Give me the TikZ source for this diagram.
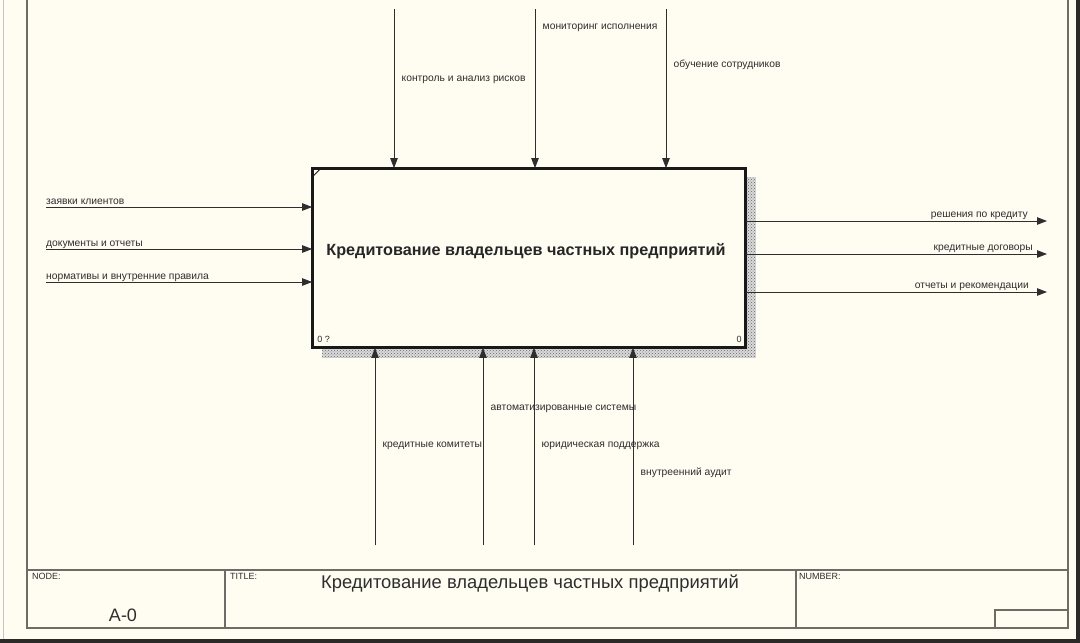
\documentclass[tikz,border=0pt]{standalone}
\usepackage{fontspec}
\setmainfont{Liberation Sans}
\usetikzlibrary{arrows.meta,positioning,patterns,calc}
\definecolor{paper}{HTML}{FFFCF2}
\definecolor{ink}{HTML}{2E2E2E}
\definecolor{rule}{HTML}{6F6B66}
\definecolor{edge}{HTML}{2C2A28}
\tikzset{
  func/.style={draw=black!90, line width=1.8pt, fill=paper, minimum width=432pt,
    minimum height=178pt, inner sep=0pt},
  flow/.style={-{Triangle[length=10pt,width=7.5pt]}, draw=ink, line width=0.9pt},
  lbl/.style={font=\fontsize{10.3}{12}\selectfont, text=ink, inner sep=0pt},
  tag/.style={font=\fontsize{9}{10}\selectfont, text=ink, inner sep=0pt},
  shade/.style={fill=gray!30, postaction={pattern=crosshatch dots, pattern color=black!60}},
  frame/.style={draw=rule, line width=1.1pt},
}

\begin{document}
\begin{tikzpicture}[x=1pt, y=-1pt]
  \useasboundingbox[fill=paper] (0,0) rectangle (1080,643);
  % screenshot edges
  \fill[edge] (0,639) rectangle (1080,643);
  \fill[edge] (1076,0) rectangle (1080,643);
  \draw[gray!45, line width=0.8pt] (3,0) -- (3,639);

  % sheet frame and title block
  \draw[frame] (27,0) -- (27,628) -- (1068,628) -- (1068,0);
  \draw[frame] (27,570) -- (1068,570);
  \draw[frame] (225,570) -- (225,628);
  \draw[frame] (796,570) -- (796,628);
  \draw[frame] (995,628) -- (995,610) -- (1068,610);
  \node[tag, anchor=north west] (nodetag) at (32,573) {NODE:};
  \node[tag, anchor=north west] (titletag) at (230,573) {TITLE:};
  \node[tag, anchor=north west] (numtag) at (799,573) {NUMBER:};
  \node[font=\fontsize{18}{20}\selectfont, text=ink, inner sep=0pt] (nodeno) at (123,615) {A-0};
  \node[font=\fontsize{18.4}{20}\selectfont, text=ink, inner sep=0pt] (sheet) at (530,584)
    {Кредитование владельцев частных предприятий};

  % activity box with shadow
  \node[func] (act) at (529,258) {};
  \path[shade] ($(act.north east)+(0,9)$) rectangle ($(act.south east)+(10,10)$);
  \path[shade] ($(act.south west)+(10,0)$) rectangle ($(act.south east)+(10,10)$);
  \draw[black!90, line width=1.8pt] (act.north west) rectangle (act.south east);
  \draw[black!90, line width=0.9pt] ($(act.north west)+(0,9)$) -- ($(act.north west)+(9,0)$);
  \node[font=\bfseries\fontsize{16.2}{18}\selectfont, text=black!85, inner sep=0pt] (acttitle)
    at ($(act.center)+(-3,-7)$) {Кредитование владельцев частных предприятий};
  \node[tag, anchor=base west] (actno) at ($(act.south west)+(5,-5)$) {0 ?};
  \node[tag, anchor=base east] (actcost) at ($(act.south east)+(-4,-5)$) {0};

  % inputs
  \foreach \y/\txt [count=\i] in {207/заявки клиентов, 249/документы и отчеты,
      282/нормативы и внутренние правила} {
    \coordinate (in\i) at (46,\y);
    \draw[flow] (in\i) -- (in\i -| act.west);
    \node[lbl, anchor=base west] at ($(in\i)+(0,-3)$) {\txt};
  }

  % outputs
  \foreach \y/\ex/\txt [count=\i] in {221/1028/решения по кредиту, 254/1033/кредитные договоры,
      292/1029/отчеты и рекомендации} {
    \coordinate (out\i) at (1047,\y);
    \draw[flow] (out\i -| act.east) -- (out\i);
    \node[lbl, anchor=base east] at (\ex,\y-3.5) {\txt};
  }

  % controls
  \foreach \x/\by/\txt [count=\i] in {394/81/контроль и анализ рисков, 535/29/мониторинг исполнения,
      666/67/обучение сотрудников} {
    \coordinate (ctl\i) at (\x,9);
    \draw[flow] (ctl\i) -- (ctl\i |- act.north);
    \node[lbl, anchor=base west] at (\x+7.5,\by) {\txt};
  }

  % mechanisms
  \foreach \x/\by/\txt [count=\i] in {375/447/кредитные комитеты, 483/410/автоматизированные системы,
      534/447/юридическая поддержка, 633/475/внутреенний аудит} {
    \coordinate (mech\i) at (\x,545);
    \draw[flow] (mech\i) -- (mech\i |- act.south);
    \node[lbl, anchor=base west] at (\x+7.5,\by) {\txt};
  }
\end{tikzpicture}
\end{document}
